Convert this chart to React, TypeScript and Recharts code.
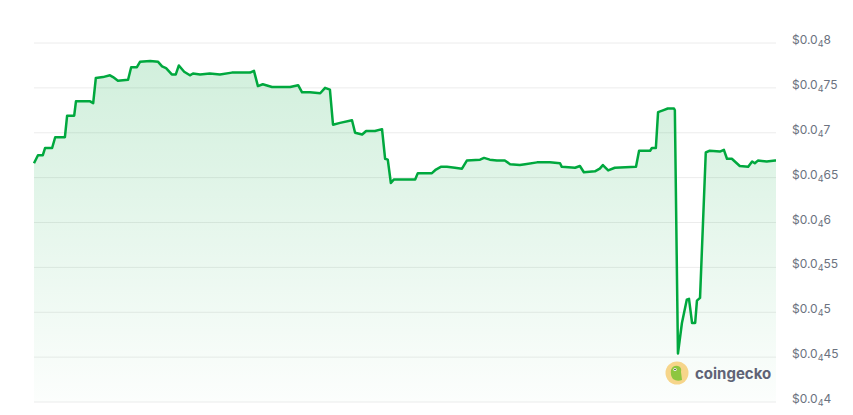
import React from "react";
import { AreaChart, Area, XAxis, YAxis, CartesianGrid } from "recharts";

// hours since start of 7-day window
const hours = [
  0, 0.9, 2.0, 2.5, 4.1, 4.8, 7.0, 7.5, 9.1, 9.5, 12.7, 13.4, 14.0, 15.6, 17.2, 17.9, 19.0, 21.3, 22.0, 23.3,
  24.0, 26.3, 28.1, 29.0, 29.9, 31.2, 32.1, 32.8, 34.0, 35.3, 36.0, 37.6, 39.8, 42.1, 44.8, 48.9, 49.8, 50.7,
  51.8, 53.9, 58.0, 59.8, 60.7, 62.5, 64.8, 65.9, 67.0, 67.7, 69.3, 72.0, 72.7, 74.3, 75.2, 77.2, 78.8, 79.5,
  80.1, 80.8, 81.5, 86.3, 86.9, 90.1, 91.0, 92.1, 93.5, 95.3, 96.9, 98.0, 101.0, 101.9, 103.2, 104.8, 106.6,
  107.8, 110.0, 111.2, 113.9, 116.8, 119.1, 119.5, 122.5, 123.6, 124.5, 127.0, 128.1, 128.8, 130.0, 131.5,
  136.3, 137.0, 139.5, 139.9, 140.8, 141.3, 142.4, 143.5, 144.9, 145.1, 145.8, 146.7, 147.8, 148.3, 149.0,
  149.7, 150.1, 150.8, 152.1, 153.0, 155.3, 156.2, 156.9, 158.0, 159.8, 161.7, 162.6, 163.2, 163.9, 165.9,
  167.8, 168,
];

// price in units of $0.00001
const prices = [
  6.66, 6.75, 6.75, 6.83, 6.83, 6.95, 6.95, 7.19, 7.19, 7.35, 7.35, 7.33, 7.61, 7.62, 7.64, 7.62, 7.58, 7.59, 7.73, 7.73,
  7.79, 7.80, 7.79, 7.74, 7.72, 7.65, 7.65, 7.75, 7.68, 7.64, 7.66, 7.65, 7.66, 7.65, 7.67, 7.67, 7.69, 7.52,
  7.54, 7.51, 7.51, 7.53, 7.45, 7.45, 7.44, 7.50, 7.48, 7.09, 7.11, 7.14, 7.00, 6.98, 7.02, 7.02, 7.04, 6.71,
  6.70, 6.44, 6.48, 6.48, 6.55, 6.55, 6.59, 6.62, 6.62, 6.61, 6.60, 6.69, 6.70, 6.72, 6.70, 6.69, 6.69,
  6.65, 6.64, 6.65, 6.67, 6.67, 6.66, 6.62, 6.61, 6.63, 6.56, 6.57, 6.60, 6.64, 6.58, 6.61,
  6.62, 6.80, 6.80, 6.83, 6.83, 7.23, 7.25, 7.27, 7.27, 7.25, 4.54, 4.88, 5.14, 5.15, 4.88,
  4.88, 5.13, 5.16, 6.78, 6.80, 6.79, 6.81, 6.71, 6.71, 6.63, 6.62, 6.68, 6.66, 6.69, 6.68,
  6.69, 6.69,
];

const yTicks = [4, 4.5, 5, 5.5, 6, 6.5, 7, 7.5, 8];

const data = hours.map((h, i) => ({ t: h, price: prices[i] }));

const TickLabel = (props: any) => {
  const { x, y, payload } = props;
  const digits = String(payload.value).replace(".", "");
  return (
    <text x={x} y={y + 1} fill="#6b7280" fontSize={12} fontFamily="Inter, 'Noto Sans', sans-serif" textAnchor="start">
      <tspan>$0.0</tspan>
      <tspan fontSize={9} dy={3}>4</tspan>
      <tspan dy={-3}>{digits}</tspan>
    </text>
  );
};

export default function App() {
  return (
    <div style={{ position: "absolute", left: 0, top: 0, width: 853, height: 415, background: "#fff" }}>
      <AreaChart width={853} height={415} data={data} margin={{ top: 43, left: 34, right: 0, bottom: 13 }}>
        <defs>
          <linearGradient id="fillG" x1="0" y1="0" x2="0" y2="1">
            <stop offset="0%" stopColor="#00a83e" stopOpacity={0.3} />
            <stop offset="100%" stopColor="#00a83e" stopOpacity={0.02} />
          </linearGradient>
        </defs>
        <CartesianGrid vertical={false} stroke="#ececec" />
        <XAxis dataKey="t" type="number" domain={[0, 168]} hide />
        <YAxis
          orientation="right"
          domain={[4, 8]}
          ticks={yTicks}
          width={77}
          axisLine={false}
          tickLine={false}
          tickSize={0}
          tickMargin={16}
          tick={<TickLabel />}
          interval={0}
        />
        <Area
          type="linear"
          dataKey="price"
          stroke="#00a83e"
          strokeWidth={2.5}
          strokeLinejoin="round"
          fill="url(#fillG)"
          baseValue={4}
          isAnimationActive={false}
          dot={false}
          activeDot={false}
        />
      </AreaChart>
      <div style={{ position: "absolute", left: 665, top: 361, display: "flex", alignItems: "center", gap: 6 }}>
        <svg width={24} height={24} viewBox="0 0 24 24">
          <circle cx={12} cy={12} r={11.5} fill="#f6d58a" />
          <path d="M6 9 Q8 4 13 5 Q17 6 16 11 L17 19 Q12 21 8 18 Q5 14 6 9 Z" fill="#8dc63f" />
          <circle cx={10} cy={8.5} r={1.6} fill="#fff" />
          <circle cx={10} cy={8.5} r={0.8} fill="#333" />
        </svg>
        <span style={{ fontFamily: "Inter, 'Noto Sans', sans-serif", fontWeight: 700, fontSize: 15, color: "#5f6375" }}>coingecko</span>
      </div>
    </div>
  );
}
